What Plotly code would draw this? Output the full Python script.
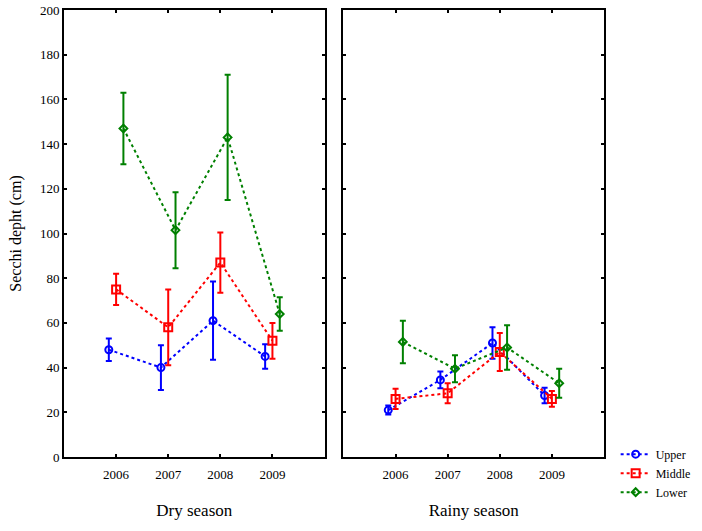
import plotly.graph_objects as go
from plotly.subplots import make_subplots

years = [2006, 2007, 2008, 2009]
groups = ["Upper", "Middle", "Lower"]

# dry season: means and half-width of the error bars
dry_upper = [48, 40, 61, 45]
dry_upper_err = [5, 10, 17.5, 5.5]
dry_middle = [75, 58, 87, 52]
dry_middle_err = [7, 17, 13.5, 8]
dry_lower = [147, 101.5, 143, 64]
dry_lower_err = [16, 17, 28, 7.5]

# rainy season
rainy_upper = [21, 34.5, 51, 27.5]
rainy_upper_err = [2, 3.7, 7, 3.5]
rainy_middle = [26, 28.5, 47, 26]
rainy_middle_err = [4.5, 4.5, 8.5, 3.5]
rainy_lower = [51.5, 39.5, 49, 33]
rainy_lower_err = [9.5, 6, 10, 6.5]

colors = {"Upper": "#0000ff", "Middle": "#ff0000", "Lower": "#008000"}
symbols = {"Upper": "circle-open", "Middle": "square-open", "Lower": "diamond-open"}
sizes = {"Upper": 7, "Middle": 8, "Lower": 6}
dodge = {"Upper": -0.14, "Middle": 0.0, "Lower": 0.14}

seasons = [
    {"Upper": (dry_upper, dry_upper_err), "Middle": (dry_middle, dry_middle_err),
     "Lower": (dry_lower, dry_lower_err)},
    {"Upper": (rainy_upper, rainy_upper_err), "Middle": (rainy_middle, rainy_middle_err),
     "Lower": (rainy_lower, rainy_lower_err)},
]

serif = "Liberation Serif, Times New Roman, serif"

fig = make_subplots(rows=1, cols=2, horizontal_spacing=0.035, shared_yaxes=False)

for col, season in enumerate(seasons, start=1):
    for g in groups:
        vals, errs = season[g]
        fig.add_trace(go.Scatter(
            x=[y + dodge[g] for y in years], y=vals,
            mode="lines+markers",
            name=g,
            legendgroup=g,
            showlegend=(col == 2),
            line=dict(color=colors[g], width=2, dash="dot"),
            marker=dict(symbol=symbols[g], size=sizes[g], color=colors[g],
                        line=dict(width=2, color=colors[g])),
            error_y=dict(type="data", array=errs, visible=True, color=colors[g],
                         thickness=2, width=3),
        ), row=1, col=col)

axis_common = dict(
    showline=True, linecolor="black", linewidth=2, mirror="ticks",
    ticks="inside", ticklen=3, tickwidth=1.5, tickcolor="black",
    showgrid=False, zeroline=False, automargin=False,
    ticklabeloverflow="allow",
    tickfont=dict(family=serif, size=13, color="black"),
)

fig.update_xaxes(range=[2005, 2010], tickvals=years, ticklabelstandoff=4, **axis_common)
fig.update_yaxes(range=[0, 200], dtick=20, **axis_common)
fig.update_yaxes(showticklabels=False, row=1, col=2)
fig.update_yaxes(title=dict(text="Secchi depht (cm)", font=dict(family=serif, size=16, color="black"),
                            standoff=14), row=1, col=1)
fig.update_xaxes(title=dict(text="Dry season", font=dict(family=serif, size=17, color="black"),
                            standoff=24), row=1, col=1)
fig.update_xaxes(title=dict(text="Rainy season", font=dict(family=serif, size=17, color="black"),
                            standoff=24), row=1, col=2)

fig.update_layout(
    width=702, height=531,
    margin=dict(l=64, r=98, t=10, b=74),
    plot_bgcolor="white", paper_bgcolor="white",
    legend=dict(xref="container", yref="container", x=0.877, y=0.172,
                xanchor="left", yanchor="top",
                font=dict(family=serif, size=12, color="black"),
                tracegroupgap=0, itemwidth=30),
)

# drop the default page margin so the figure sits at the window's corner
fig.write_html("out.html", config={"displayModeBar": False},
               post_script="document.body.style.margin='0';")
